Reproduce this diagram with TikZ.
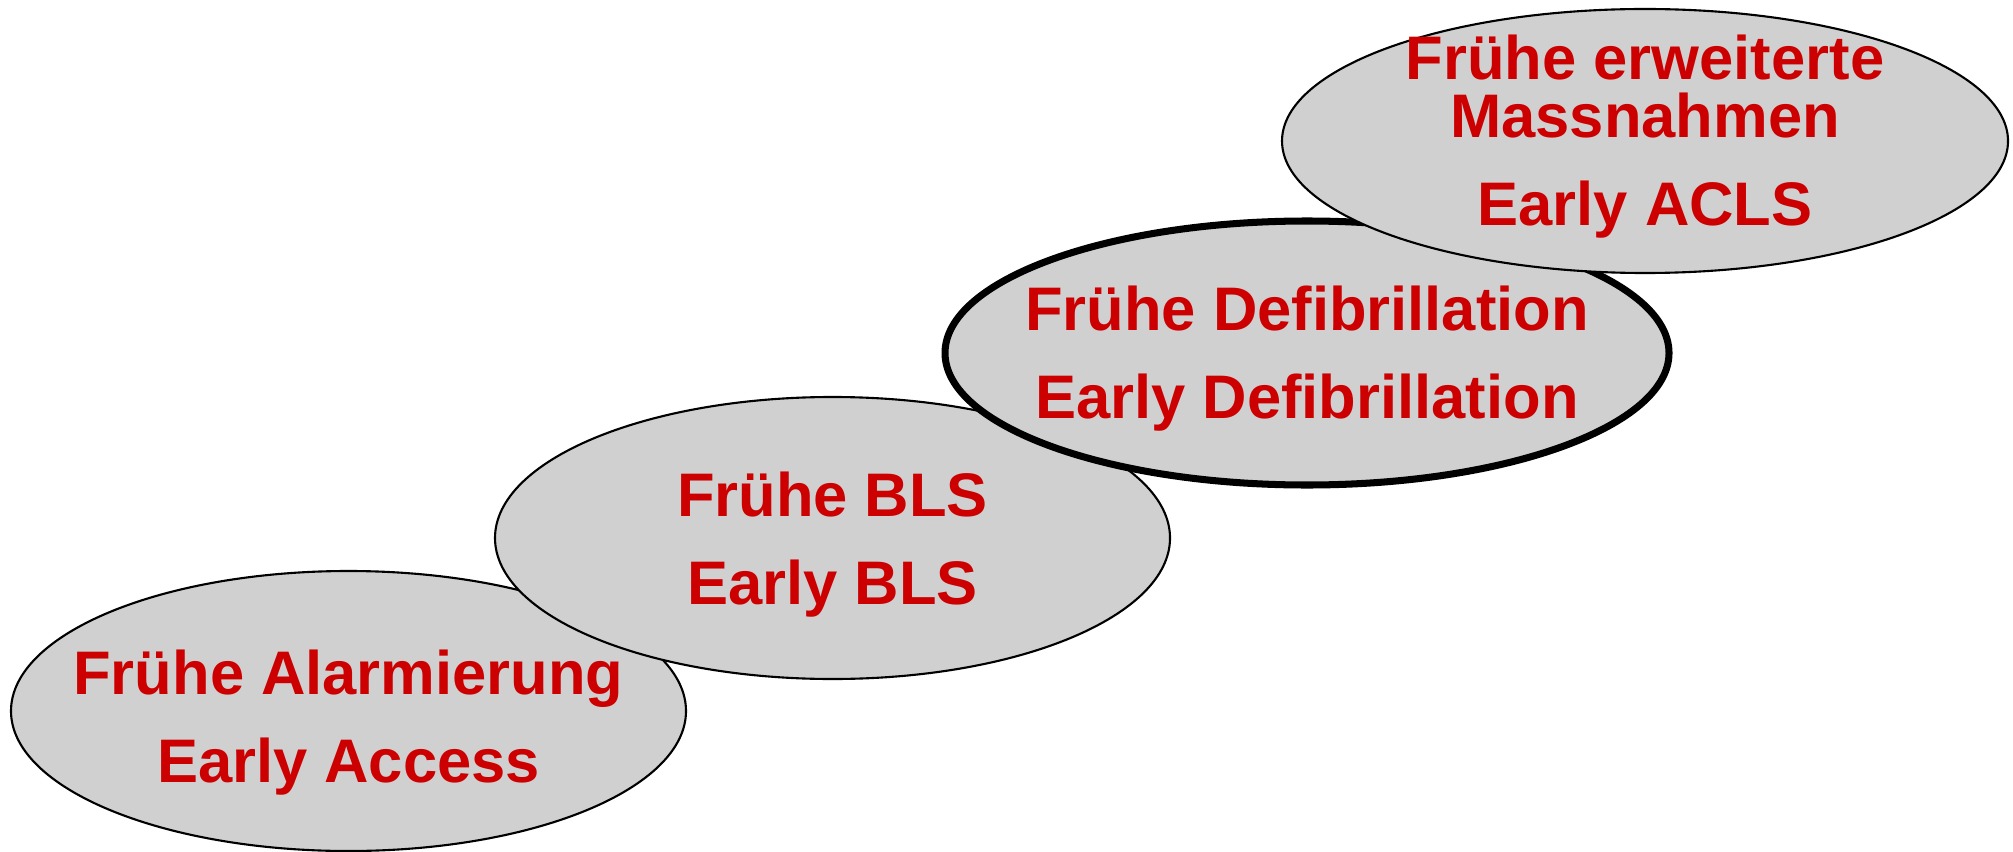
\documentclass[tikz,border=0pt]{standalone}
\usepackage{fontspec}
\setmainfont{Liberation Sans}
\usepackage{tikz}
\usetikzlibrary{%
	shapes.geometric,% wg. ellipse
	positioning%
}
\definecolor{stagegray}{RGB}{208,208,208}
\definecolor{stagered}{RGB}{204,0,0}
\tikzstyle{stage}=[ellipse, inner sep = 0pt, draw = black, fill = stagegray]
\tikzstyle{caption}=[align = center, inner sep = 0pt, text = stagered, font = \bfseries\fontsize{17.5}{25}\selectfont]

\begin{document}
\begin{tikzpicture}
	\useasboundingbox (0,0) rectangle (20.13,8.51);
	
	% First we draw the ellipses, the lowest one first
	\foreach \pos/\name/\wid/\hgt/\lwd in {{(3.485,1.40)/access/6.75/2.80/0.6}, {(8.325,3.13)/bls/6.75/2.82/0.6}, {(13.07,4.98)/defib/7.24/2.64/2}, {(16.45,7.10)/acls/7.26/2.64/0.6}}
	\node[stage, minimum width = \wid cm, minimum height = \hgt cm, line width = \lwd pt] (\name) at \pos {};
	
	% Then the texts in the ellipses
	\node[caption, yshift = -0.12cm] (access-text) at (access) {Frühe Alarmierung\\Early Access};
	\node[caption, yshift = -0.07cm] (bls-text) at (bls) {Frühe BLS\\Early BLS};
	\node[caption, yshift = -0.06cm] (defib-text) at (defib) {Frühe Defibrillation\\Early Defibrillation};
	\node[caption, yshift = 0.04cm] (acls-text) at (acls) {Frühe erweiterte\\[-8.5pt]Massnahmen\\Early ACLS};
	
\end{tikzpicture}
\end{document}
